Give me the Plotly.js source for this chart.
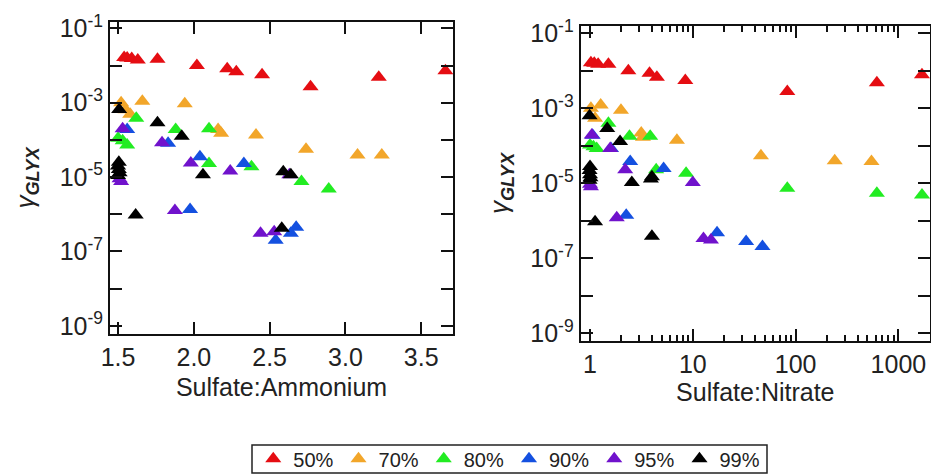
<!DOCTYPE html>
<html>
<head>
<meta charset="utf-8">
<script src="https://cdn.plot.ly/plotly-3.0.1.min.js"></script>
<style>html,body{margin:0;padding:0;background:#fff;}#chart{width:931px;height:475px;}</style>
</head>
<body>
<div id="chart"></div>
<script>
// Series labels and colours
const seriesNames = ['50%', '70%', '80%', '90%', '95%', '99%'];

// Left panel: Sulfate:Ammonium
const red50L_x = [1.54, 1.56, 1.59, 1.63, 1.76, 2.02, 2.22, 2.28, 2.45, 2.77, 3.22, 3.66];
const red50L_y = [1.65e-2, 1.6e-2, 1.55e-2, 1.4e-2, 1.47e-2, 1.0e-2, 8.2e-3, 6.8e-3, 5.6e-3, 2.7e-3, 4.8e-3, 7.2e-3];
const orange70L_x = [1.52, 1.55, 1.58, 1.66, 1.94, 2.16, 2.18, 2.41, 2.74, 3.08, 3.24];
const orange70L_y = [1.0e-3, 6.5e-4, 4.9e-4, 1.1e-3, 9.3e-4, 1.9e-4, 1.5e-4, 1.35e-4, 5.6e-5, 3.9e-5, 3.9e-5];
const green80L_x = [1.50, 1.53, 1.56, 1.62, 1.88, 2.10, 2.10, 2.38, 2.71, 2.89];
const green80L_y = [1.1e-4, 9.5e-5, 7.3e-5, 3.8e-4, 1.9e-4, 2.0e-4, 2.3e-5, 1.9e-5, 7.6e-6, 4.8e-6];
const blue90L_x = [1.56, 1.83, 1.975, 2.04, 2.33, 2.54, 2.64, 2.675];
const blue90L_y = [1.9e-4, 8.1e-5, 1.35e-6, 3.5e-5, 2.3e-5, 2.0e-7, 3.1e-7, 4.5e-7];
const purple95L_x = [1.51, 1.52, 1.53, 1.79, 1.875, 1.98, 2.24, 2.44, 2.53, 2.63];
const purple95L_y = [9.0e-6, 7.6e-6, 2.0e-4, 8.4e-5, 1.26e-6, 2.4e-5, 1.45e-5, 3.1e-7, 3.4e-7, 1.15e-5];
const black99L_x = [1.505, 1.50, 1.505, 1.51, 1.50, 1.507, 1.616, 1.76, 1.92, 2.06, 2.58, 2.59, 2.64];
const black99L_y = [2.5e-5, 2.0e-5, 1.6e-5, 1.3e-5, 1.1e-5, 6.6e-4, 9.5e-7, 2.9e-4, 1.26e-4, 1.15e-5, 4.2e-7, 1.4e-5, 1.15e-5];

// Right panel: Sulfate:Nitrate
const red50R_x = [1.02, 1.1, 1.2, 1.51, 2.36, 3.79, 4.47, 8.45, 83, 617, 1695];
const red50R_y = [1.65e-2, 1.6e-2, 1.5e-2, 1.5e-2, 1.0e-2, 8.6e-3, 6.7e-3, 5.5e-3, 2.8e-3, 4.8e-3, 7.8e-3];
const orange70R_x = [1.02, 1.12, 1.27, 2.0, 3.15, 3.27, 7.0, 46, 240, 547];
const orange70R_y = [1.0e-3, 5.4e-4, 1.23e-3, 8.9e-4, 2.2e-4, 1.7e-4, 1.4e-4, 5.4e-5, 4.0e-5, 3.8e-5];
const green80R_x = [1.0, 1.08, 1.16, 1.51, 2.42, 3.85, 4.4, 8.6, 83, 617, 1695];
const green80R_y = [1.05e-4, 9.5e-5, 8.5e-5, 4.0e-4, 1.8e-4, 1.8e-4, 2.3e-5, 1.85e-5, 7.4e-6, 5.4e-6, 4.9e-6];
const blue90R_x = [1.06, 1.6, 2.25, 2.46, 5.2, 17.2, 33, 47.6];
const blue90R_y = [1.9e-4, 8.5e-5, 1.4e-6, 3.8e-5, 2.5e-5, 4.8e-7, 2.8e-7, 2.05e-7];
const purple95R_x = [1.0, 1.02, 1.04, 1.57, 1.82, 2.2, 10.0, 12.7, 15];
const purple95R_y = [9.5e-6, 8.1e-6, 1.95e-4, 8.5e-5, 1.2e-6, 2.3e-5, 1.05e-5, 3.4e-7, 3.1e-7];
const black99R_x = [1.0, 0.99, 1.0, 1.01, 0.99, 0.99, 1.12, 1.47, 1.96, 2.55, 3.91, 4.0, 4.0];
const black99R_y = [2.8e-5, 2.2e-5, 1.7e-5, 1.4e-5, 1.2e-5, 6.3e-4, 9.5e-7, 2.9e-4, 1.3e-4, 1.05e-5, 1.3e-5, 1.5e-5, 3.9e-7];

// Tick labels
const yTickVals = [1e-9, 1e-8, 1e-7, 1e-6, 1e-5, 1e-4, 1e-3, 1e-2, 1e-1];
const yTickText = ['10<sup>-9</sup>', '', '10<sup>-7</sup>', '', '10<sup>-5</sup>', '', '10<sup>-3</sup>', '', '10<sup>-1</sup>'];
const xLeftTickVals = [1.5, 2.0, 2.5, 3.0, 3.5];
const xLeftTickText = ['1.5', '2.0', '2.5', '3.0', '3.5'];
const xRightTickVals = [1, 10, 100, 1000];
const xRightTickText = ['1', '10', '100', '1000'];
const xRightMinorVals = [2,3,4,5,6,7,8,9,20,30,40,50,60,70,80,90,200,300,400,500,600,700,800,900,2000];

const colors = ['#e50d12', '#f2a62a', '#22ec22', '#1450e0', '#7012cc', '#000000'];

const leftX = [red50L_x, orange70L_x, green80L_x, blue90L_x, purple95L_x, black99L_x];
const leftY = [red50L_y, orange70L_y, green80L_y, blue90L_y, purple95L_y, black99L_y];
const rightX = [red50R_x, orange70R_x, green80R_x, blue90R_x, purple95R_x, black99R_x];
const rightY = [red50R_y, orange70R_y, green80R_y, blue90R_y, purple95R_y, black99R_y];

const traces = [];
for (let i = 0; i < seriesNames.length; i++) {
  traces.push({
    type: 'scatter', mode: 'markers', name: seriesNames[i],
    x: leftX[i], y: leftY[i], xaxis: 'x', yaxis: 'y',
    marker: {symbol: 'triangle-up', size: 14, color: colors[i]},
    showlegend: true, legendgroup: seriesNames[i]
  });
}
for (let i = 0; i < seriesNames.length; i++) {
  traces.push({
    type: 'scatter', mode: 'markers', name: seriesNames[i],
    x: rightX[i], y: rightY[i], xaxis: 'x2', yaxis: 'y2',
    marker: {symbol: 'triangle-up', size: 14, color: colors[i]},
    showlegend: false, legendgroup: seriesNames[i]
  });
}

const fontFam = 'Liberation Sans, Arial, sans-serif';
const axCommon = {
  showline: true, linecolor: '#111', linewidth: 2, mirror: 'allticks',
  ticks: 'inside', ticklen: 12, tickwidth: 2, tickcolor: '#111',
  showgrid: false, zeroline: false,
  tickfont: {family: fontFam, size: 25, color: '#222'}
};
const yTitle = '<i>γ</i><sub><b><i>GLYX</i></b></sub>';

const layout = {
  width: 931, height: 475,
  margin: {l: 0, r: 0, t: 0, b: 0, autoexpand: false},
  paper_bgcolor: '#fff', plot_bgcolor: '#fff',
  font: {family: fontFam, color: '#222'},
  xaxis: Object.assign({}, axCommon, {
    domain: [0.1182, 0.4866], range: [1.447, 3.71],
    tickmode: 'array', tickvals: xLeftTickVals, ticktext: xLeftTickText,
    anchor: 'y',
    title: {text: 'Sulfate:Ammonium', font: {family: fontFam, size: 25, color: '#222'}, standoff: 8}
  }),
  yaxis: Object.assign({}, axCommon, {
    type: 'log', domain: [0.2968, 0.9537], range: [-9.22, -0.83],
    tickmode: 'array', tickvals: yTickVals, ticktext: yTickText,
    anchor: 'x',
    title: {text: yTitle, font: {family: fontFam, size: 26, color: '#222'}, standoff: 18}
  }),
  xaxis2: Object.assign({}, axCommon, {
    type: 'log', domain: [0.6237, 0.9989], range: [-0.091, 3.307],
    tickmode: 'array', tickvals: xRightTickVals, ticktext: xRightTickText,
    minor: {tickmode: 'array', tickvals: xRightMinorVals, ticks: 'inside', ticklen: 6, tickwidth: 2, tickcolor: '#111', showgrid: false},
    anchor: 'y2',
    title: {text: 'Sulfate:Nitrate', font: {family: fontFam, size: 25, color: '#222'}, standoff: 2}
  }),
  yaxis2: Object.assign({}, axCommon, {
    type: 'log', domain: [0.2821, 0.9453], range: [-9.205, -0.805],
    tickmode: 'array', tickvals: yTickVals, ticktext: yTickText,
    anchor: 'x2',
    title: {text: yTitle, font: {family: fontFam, size: 26, color: '#222'}, standoff: 14}
  }),
  shapes: [{
    type: 'rect', xref: 'paper', yref: 'paper',
    x0: 252 / 931, x1: 767 / 931, y0: (475 - 473) / 475, y1: (475 - 445) / 475,
    line: {color: '#222', width: 1.5}, fillcolor: 'rgba(0,0,0,0)'
  }],
  legend: {
    orientation: 'h', x: 0.547, xanchor: 'center', y: 0.034, yanchor: 'middle',
    borderwidth: 0, bgcolor: 'rgba(0,0,0,0)',
    font: {family: fontFam, size: 20, color: '#222'},
    itemwidth: 30
  }
};

Plotly.newPlot('chart', traces, layout, {displayModeBar: false, staticPlot: true});
</script>
</body>
</html>
